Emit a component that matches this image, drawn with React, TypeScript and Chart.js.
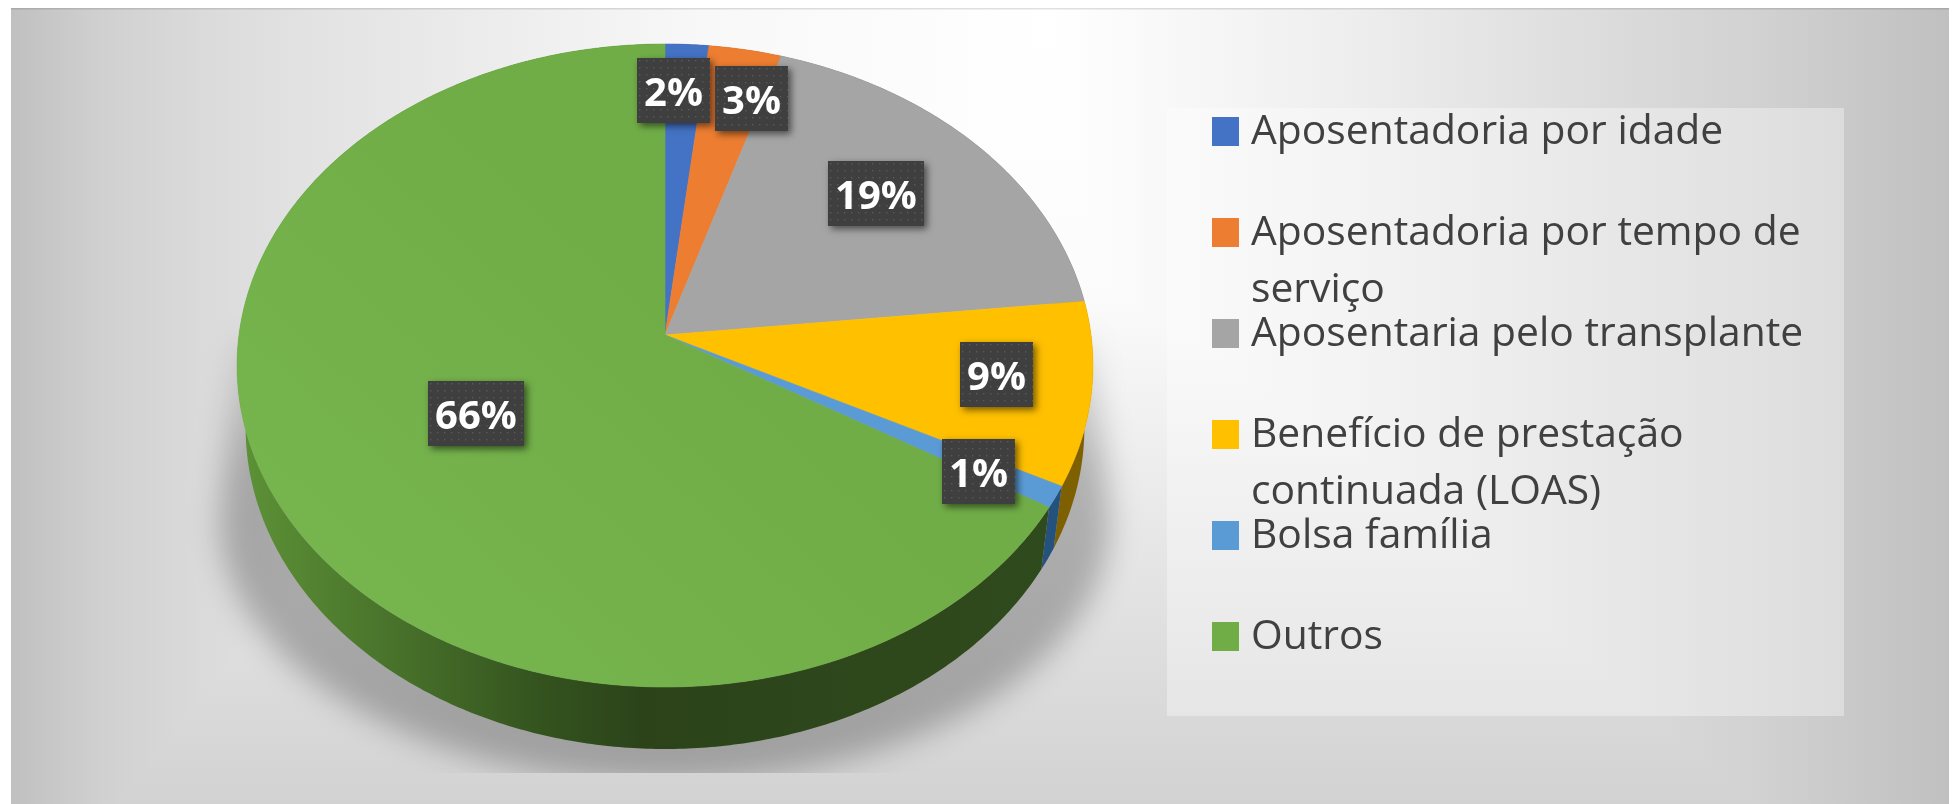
import React, { useEffect, useRef } from "react";
import { Chart, registerables } from "chart.js";

Chart.register(...registerables);

const categories = [
  "Aposentadoria por idade",
  "Aposentadoria por tempo de serviço",
  "Aposentaria pelo transplante",
  "Benefício de prestação continuada (LOAS)",
  "Bolsa família",
  "Outros",
];
const shares = [1.8, 3.0, 18.5, 9.2, 1.1, 66.4];
const faceColors = ["#4472c4", "#ed7d31", "#a5a5a5", "#ffc000", "#5b9bd5", "#70ad47"];
const wallColors = ["#203864", "#843c0c", "#525252", "#7f6000", "#25527c", "#2e4a1c"];

// placement of each value label relative to its slice: radial fraction, angle nudge in degrees
const labelRadius = [0.828, 0.828, 0.694, 0.778, 0.818, 0.495];
const labelNudge = [-1.7, 3.4, -2.5, -1.3, 1.2, 0.4];

// projection of the tilted pie
const CX = 665, CY = 335, RX = 426, KY = 318.6, P = -0.0949, DEPTH = 62, BOTTOM_SCALE = 0.98;
const FONT = '"Open Sans"';

function project(theta: number, r = 1) {
  const u = r * Math.cos(theta), v = r * Math.sin(theta);
  const w = 1 + P * v;
  return { x: CX + (RX * u) / w, y: CY + (KY * v) / w };
}
function lower(p: { x: number; y: number }) {
  return { x: CX + (p.x - CX) * BOTTOM_SCALE, y: p.y + DEPTH };
}

function dotPattern(ctx: CanvasRenderingContext2D) {
  const c = document.createElement("canvas");
  c.width = 7; c.height = 7;
  const g = c.getContext("2d")!;
  g.fillStyle = "#3f3f3f";
  g.fillRect(0, 0, 7, 7);
  g.fillStyle = "#5a5a5a";
  g.fillRect(2, 2, 1.4, 1.4);
  return ctx.createPattern(c, "repeat")!;
}

const scenePlugin = {
  id: "scene",
  beforeDraw(chart: any) {
    const ctx: CanvasRenderingContext2D = chart.ctx;
    const W = chart.width, H = chart.height;
    ctx.save();
    ctx.fillStyle = "#ffffff";
    ctx.fillRect(0, 0, W, H);
    // picture background: rectangular path gradient, darkest at the edges
    ctx.beginPath();
    ctx.rect(11, 8, 1938, 796);
    ctx.clip();
    const gx = ctx.createLinearGradient(11, 0, 1949, 0);
    const sx = (x: number) => (x - 11) / 1938;
    gx.addColorStop(sx(11), "#c0c0c0");
    gx.addColorStop(sx(100), "#d0d0d0");
    gx.addColorStop(sx(200), "#dadada");
    gx.addColorStop(sx(300), "#e2e2e2");
    gx.addColorStop(sx(700), "#f8f8f8");
    gx.addColorStop(sx(1050), "#ffffff");
    gx.addColorStop(sx(1350), "#eeeeee");
    gx.addColorStop(sx(1600), "#dcdcdc");
    gx.addColorStop(sx(1752), "#d2d2d2");
    gx.addColorStop(sx(1949), "#c0c0c0");
    ctx.fillStyle = gx;
    ctx.fillRect(11, 8, 1938, 796);
    const gy = ctx.createLinearGradient(0, 8, 0, 804);
    const sy = (y: number) => (y - 8) / 796;
    gy.addColorStop(sy(8), "#ffffff");
    gy.addColorStop(sy(280), "#fcfcfc");
    gy.addColorStop(sy(500), "#eaeaea");
    gy.addColorStop(sy(700), "#dadada");
    gy.addColorStop(sy(804), "#d2d2d2");
    ctx.globalCompositeOperation = "darken";
    ctx.fillStyle = gy;
    ctx.fillRect(11, 8, 1938, 796);
    ctx.globalCompositeOperation = "source-over";
    ctx.fillStyle = "rgba(0,0,0,0.12)";
    ctx.fillRect(11, 8, 1938, 1.5);
    ctx.restore();

    // soft shadow under the pie
    ctx.save();
    ctx.beginPath();
    ctx.rect(150, 300, 1030, 473);
    ctx.clip();
    ctx.filter = "blur(15px)";
    const sh = ctx.createLinearGradient(0, 340, 0, 470);
    sh.addColorStop(0, "rgba(0,0,0,0.08)");
    sh.addColorStop(1, "rgba(0,0,0,0.25)");
    ctx.fillStyle = sh;
    ctx.beginPath();
    ctx.moveTo(238, 340);
    ctx.lineTo(220, 520);
    ctx.ellipse(665, 520, 445, 262, 0, Math.PI, 0, true);
    ctx.lineTo(1092, 340);
    ctx.closePath();
    ctx.fill();
    ctx.restore();

    // legend panel
    ctx.fillStyle = "rgba(255,255,255,0.35)";
    ctx.fillRect(1167, 108, 677, 608);
  },
  beforeDatasetDraw(chart: any, args: any) {
    const ctx: CanvasRenderingContext2D = chart.ctx;
    const arcs = chart.getDatasetMeta(args.index).data;
    const colors = chart.data.datasets[args.index];
    const STEP = 0.01;

    // side walls
    arcs.forEach((arc: any, i: number) => {
      const { startAngle, endAngle } = arc;
      const top: { x: number; y: number }[] = [];
      for (let a = startAngle; a < endAngle; a += STEP) top.push(project(a));
      top.push(project(endAngle));
      ctx.beginPath();
      top.forEach((p, k) => (k ? ctx.lineTo(p.x, p.y) : ctx.moveTo(p.x, p.y)));
      top.slice().reverse().forEach((p) => {
        const q = lower(p);
        ctx.lineTo(q.x, q.y);
      });
      ctx.closePath();
      let fill: any = colors.wallColor[i];
      if (i === arcs.length - 1) {
        const g = ctx.createLinearGradient(245, 0, 1040, 0);
        g.addColorStop(0, "#5c9136");
        g.addColorStop(0.2, "#47702a");
        g.addColorStop(0.38, "#33521e");
        g.addColorStop(0.5, "#2c431a");
        g.addColorStop(1, "#2f4a1c");
        fill = g;
      }
      ctx.fillStyle = fill;
      ctx.fill();
    });

    // top faces
    arcs.forEach((arc: any, i: number) => {
      const { startAngle, endAngle } = arc;
      ctx.beginPath();
      ctx.moveTo(CX, CY);
      for (let a = startAngle; a < endAngle; a += STEP) {
        const p = project(a);
        ctx.lineTo(p.x, p.y);
      }
      const e = project(endAngle);
      ctx.lineTo(e.x, e.y);
      ctx.closePath();
      let fill: any = colors.backgroundColor[i];
      if (i === arcs.length - 1) {
        const g = ctx.createLinearGradient(660, 300, 350, 640);
        g.addColorStop(0, "#70ad47");
        g.addColorStop(1, "#77b54e");
        fill = g;
      }
      ctx.fillStyle = fill;
      ctx.strokeStyle = fill;
      ctx.lineWidth = 0.6;
      ctx.fill();
      ctx.stroke();
    });
    return false;
  },
  afterDatasetsDraw(chart: any) {
    const ctx: CanvasRenderingContext2D = chart.ctx;
    const meta = chart.getDatasetMeta(0);
    const values: number[] = chart.data.datasets[0].data;
    const total = values.reduce((s, v) => s + v, 0);
    const pattern = dotPattern(ctx);

    // value labels
    ctx.save();
    ctx.font = `bold 40px ${FONT}`;
    ctx.textAlign = "center";
    ctx.textBaseline = "middle";
    meta.data.forEach((arc: any, i: number) => {
      const mid = (arc.startAngle + arc.endAngle) / 2 + (labelNudge[i] * Math.PI) / 180;
      const p = project(mid, labelRadius[i]);
      const text = `${Math.round((values[i] / total) * 100)}%`;
      const w = 27 + 23 * text.length;
      const h = 65;
      const x = Math.round(p.x - w / 2), y = Math.round(p.y - h / 2);
      ctx.save();
      ctx.shadowColor = "rgba(0,0,0,0.55)";
      ctx.shadowBlur = 7;
      ctx.shadowOffsetX = 3;
      ctx.shadowOffsetY = 3;
      ctx.fillStyle = "#3f3f3f";
      ctx.fillRect(x, y, w, h);
      ctx.restore();
      ctx.save();
      ctx.translate(x, y);
      ctx.fillStyle = pattern;
      ctx.fillRect(0, 0, w, h);
      ctx.restore();
      ctx.fillStyle = "#ffffff";
      ctx.fillText(text, x + w / 2, y + h / 2 + 4);
    });
    ctx.restore();

    // legend
    ctx.save();
    const labels: string[] = chart.data.labels;
    ctx.font = `40.8px ${FONT}`;
    ctx.textBaseline = "middle";
    ctx.textAlign = "left";
    labels.forEach((label, i) => {
      const rowY = 131 + i * 101;
      ctx.fillStyle = chart.data.datasets[0].backgroundColor[i];
      ctx.fillRect(1212, rowY - 14, 27, 29);
      ctx.fillStyle = "#404040";
      let line = "";
      let y = rowY + 1;
      label.split(" ").forEach((word) => {
        const next = line ? `${line} ${word}` : word;
        if (ctx.measureText(next).width > 600 && line) {
          ctx.fillText(line, 1251, y);
          line = word;
          y += 57;
        } else line = next;
      });
      ctx.fillText(line, 1251, y);
    });
    ctx.restore();
  },
};

export default function App() {
  const ref = useRef<HTMLCanvasElement>(null);
  useEffect(() => {
    document.body.style.margin = "0";
    const chart = new Chart(ref.current!, {
      type: "pie",
      data: {
        labels: categories,
        datasets: [
          {
            data: shares,
            backgroundColor: faceColors,
            wallColor: wallColors,
            borderWidth: 0,
          } as any,
        ],
      },
      options: {
        responsive: false,
        animation: false,
        plugins: { legend: { display: false }, tooltip: { enabled: false } },
      },
      plugins: [scenePlugin],
    });
    return () => chart.destroy();
  }, []);
  return <canvas ref={ref} width={1952} height={804} style={{ display: "block" }} />;
}
